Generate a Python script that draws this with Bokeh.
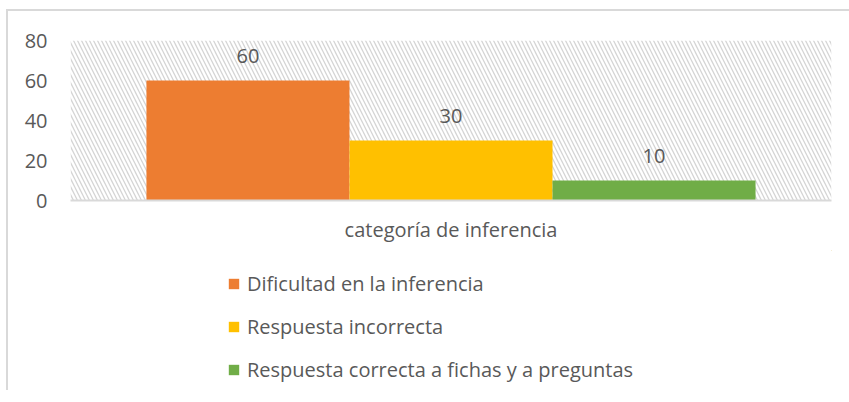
from bokeh.plotting import figure
from bokeh.layouts import column
from bokeh.models import (FactorRange, FixedTicker, BoxAnnotation, Legend, LegendItem,
                          ColumnDataSource, Range1d)
from bokeh.transform import dodge
from bokeh.core.properties import value
from bokeh.embed import file_html
from bokeh.resources import INLINE

# ---- data ----
category = "categoría de inferencia"
series = ["Dificultad en la inferencia", "Respuesta incorrecta",
          "Respuesta correcta a fichas y a preguntas"]
values = [60, 30, 10]
colors = ["#ED7D31", "#FFC000", "#70AD47"]
y_ticks = [0, 20, 40, 60, 80]

FONT = "Open Sans"
FS = "20px"
TXT = "#595959"
BAR_W = 0.2668
offsets = [-BAR_W, 0, BAR_W]

p = figure(width=841, height=239,
           x_range=FactorRange(factors=[category], range_padding=0),
           y_range=(0, 80), output_backend="svg", toolbar_location=None,
           min_border_left=62, min_border_right=18, min_border_top=29, min_border_bottom=50)
p.outline_line_color = None
p.grid.visible = False
p.background_fill_color = "white"
p.border_fill_color = "white"

p.add_layout(BoxAnnotation(fill_alpha=0, line_alpha=0, hatch_pattern="\\",
                           hatch_color="#d4d4d4", hatch_scale=8, hatch_weight=1.3,
                           level="underlay"))

for name, v, c, off in zip(series, values, colors, offsets):
    src = ColumnDataSource(dict(x=[category], top=[v], lab=[str(v)]))
    p.vbar(x=dodge("x", off, range=p.x_range), top="top", width=BAR_W, source=src,
           fill_color=c, line_color=None)
    p.text(x=dodge("x", off, range=p.x_range), y="top", text="lab", source=src,
           text_align="center", text_baseline="middle", y_offset=-25,
           text_font=value(FONT), text_font_size=FS, text_color=TXT)

p.yaxis.ticker = FixedTicker(ticks=y_ticks)
p.yaxis.axis_line_color = None
p.yaxis.major_tick_line_color = None
p.yaxis.minor_tick_line_color = None
p.yaxis.major_label_standoff = 17
p.yaxis.major_label_text_font = FONT
p.yaxis.major_label_text_font_size = FS
p.yaxis.major_label_text_color = TXT

p.xaxis.axis_line_color = "#d9d9d9"
p.xaxis.axis_line_width = 2
p.xaxis.major_tick_line_color = None
p.xaxis.minor_tick_line_color = None
p.xaxis.major_label_standoff = 9
p.xaxis.major_label_text_font = FONT
p.xaxis.major_label_text_font_size = FS
p.xaxis.major_label_text_color = TXT

# legend panel: same bars, placed outside its visible ranges, only their swatches show
lg = figure(width=841, height=140,
            x_range=FactorRange(factors=[category], range_padding=0),
            y_range=Range1d(-1000, -999), x_axis_location=None, y_axis_location=None,
            output_backend="svg", toolbar_location=None,
            min_border_left=0, min_border_right=0, min_border_top=0, min_border_bottom=0)
lg.grid.visible = False
lg.outline_line_color = None
items = []
for name, v, c, off in zip(series, values, colors, offsets):
    src = ColumnDataSource(dict(x=[category], top=[v]))
    r = lg.vbar(x=dodge("x", off + 10, range=lg.x_range), top="top", width=BAR_W,
                source=src, fill_color=c, line_color=None)
    items.append(LegendItem(label=name, renderers=[r]))
legend = Legend(items=items, orientation="vertical", location=(157, 7),
                glyph_width=13, glyph_height=13, label_standoff=7, spacing=16,
                label_text_font=FONT, label_text_font_size=FS, label_text_color=TXT,
                border_line_color=None, background_fill_alpha=0, padding=0, margin=0)
lg.add_layout(legend, "center")

layout = column(p, lg, spacing=0)
layout.styles = {"margin-left": "6px", "margin-top": "9px",
                 "border-left": "2px solid #d9d9d9", "border-top": "2px solid #d9d9d9"}

open("out.html", "w").write(file_html(layout, INLINE))
